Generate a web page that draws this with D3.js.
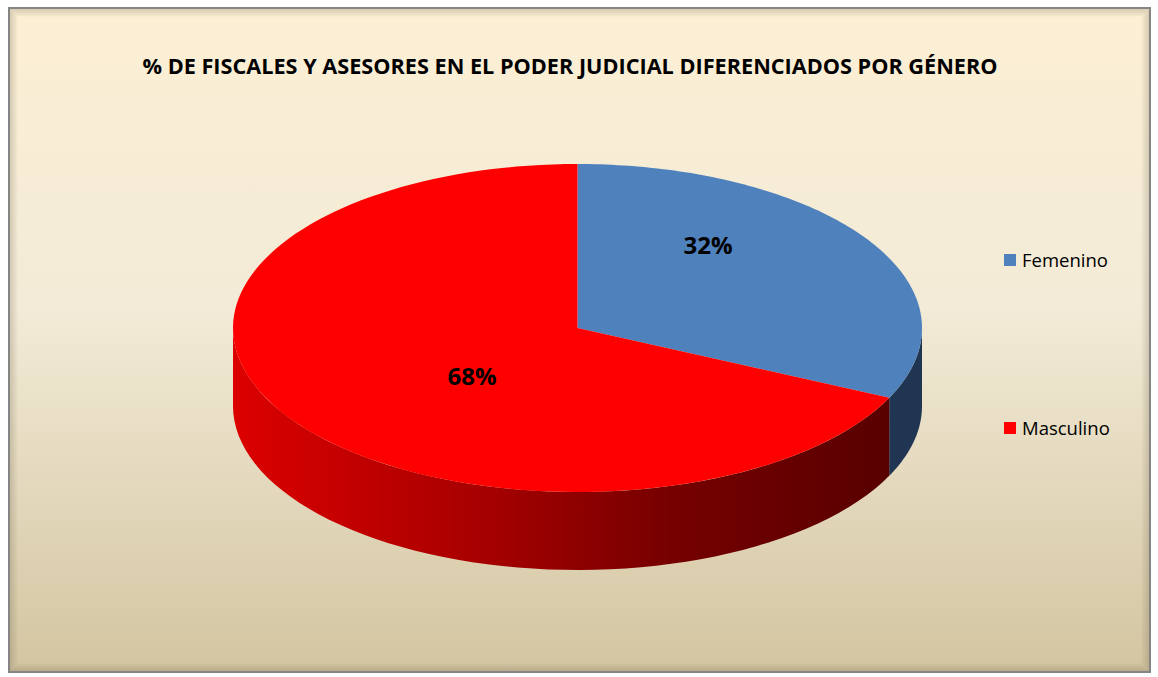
<!DOCTYPE html>
<html>
<head>
<meta charset="utf-8">
<script src="https://cdn.jsdelivr.net/npm/d3@7"></script>
<style>
  body { margin: 0; background: #ffffff; }
  svg { display: block; }
</style>
</head>
<body>
<div id="chart"></div>
<script>
// chart data
var categories = ["Femenino", "Masculino"];
var values = [32, 68];
var labels = ["32%", "68%"];
var colors = ["#4f81bd", "#ff0000"];
var title = "% DE FISCALES Y ASESORES EN EL PODER JUDICIAL DIFERENCIADOS POR GÉNERO";

var W = 1158, H = 677;
var svg = d3.select("#chart").append("svg")
  .attr("width", W)
  .attr("height", H);

var defs = svg.append("defs");

// background gradient
var bg = defs.append("linearGradient").attr("id", "bg")
  .attr("x1", 0).attr("y1", 0).attr("x2", 0).attr("y2", 1);
bg.append("stop").attr("offset", "0%").attr("stop-color", "#fcefd4");
bg.append("stop").attr("offset", "45%").attr("stop-color", "#f3ebd7");
bg.append("stop").attr("offset", "100%").attr("stop-color", "#d3c5a1");

// side gradient of the red slice
var sideRed = defs.append("linearGradient").attr("id", "sideRed")
  .attr("gradientUnits", "userSpaceOnUse")
  .attr("x1", 233).attr("y1", 0).attr("x2", 905).attr("y2", 0);
sideRed.append("stop").attr("offset", "0%").attr("stop-color", "#dc0000");
sideRed.append("stop").attr("offset", "40%").attr("stop-color", "#a20000");
sideRed.append("stop").attr("offset", "65%").attr("stop-color", "#760000");
sideRed.append("stop").attr("offset", "100%").attr("stop-color", "#560000");

var sideColors = ["#1f3552", "url(#sideRed)"];

// frame
var frame = { x: 9, y: 8, w: 1141, h: 664 };
svg.append("rect")
  .attr("x", frame.x).attr("y", frame.y)
  .attr("width", frame.w).attr("height", frame.h)
  .attr("fill", "url(#bg)");

// inner shadow of the frame
for (var i = 0; i < 8; i++) {
  svg.append("rect")
    .attr("x", frame.x + i + 1).attr("y", frame.y + i + 1)
    .attr("width", frame.w - 2 * i - 2).attr("height", frame.h - 2 * i - 2)
    .attr("fill", "none")
    .attr("stroke", "#6b604a")
    .attr("stroke-opacity", 0.25 * (1 - i / 8))
    .attr("stroke-width", 1);
}
svg.append("rect")
  .attr("x", frame.x).attr("y", frame.y)
  .attr("width", frame.w).attr("height", frame.h)
  .attr("fill", "none")
  .attr("stroke", "#858585")
  .attr("stroke-width", 2);

// title
svg.append("text")
  .attr("x", 570).attr("y", 74)
  .attr("text-anchor", "middle")
  .attr("font-family", "Open Sans, sans-serif")
  .attr("font-weight", "bold")
  .attr("font-size", 21)
  .attr("textLength", 855)
  .attr("lengthAdjust", "spacingAndGlyphs")
  .attr("fill", "#000")
  .text(title);

// pie geometry (ellipse)
var cx = 577.5, cy = 328, rx = 344.5, ry = 164, depth = 78;

var pie = d3.pie().sort(null).value(function(d) { return d; });
var arcs = pie(values);

// angle a measured clockwise from 12 o'clock
function px(a) { return cx + rx * Math.sin(a); }
function py(a, dz) { return cy - ry * Math.cos(a) + (dz || 0); }

function sidePath(a0, a1) {
  var n = 60, pts = [], i, a;
  for (i = 0; i <= n; i++) {
    a = a0 + (a1 - a0) * i / n;
    pts.push([px(a), py(a)]);
  }
  for (i = n; i >= 0; i--) {
    a = a0 + (a1 - a0) * i / n;
    pts.push([px(a), py(a, depth)]);
  }
  return d3.line()(pts) + "Z";
}

function topPath(a0, a1) {
  var n = 120, pts = [[cx, cy]];
  for (var i = 0; i <= n; i++) {
    var a = a0 + (a1 - a0) * i / n;
    pts.push([px(a), py(a)]);
  }
  return d3.line()(pts) + "Z";
}

// sides: only the front half (PI/2 .. 3PI/2) is visible
var g = svg.append("g");
g.selectAll("path.side")
  .data(arcs)
  .join("path")
  .attr("class", "side")
  .attr("d", function(d) {
    var a0 = Math.max(d.startAngle, Math.PI / 2);
    var a1 = Math.min(d.endAngle, 3 * Math.PI / 2);
    if (a1 <= a0) return null;
    return sidePath(a0, a1);
  })
  .attr("fill", function(d, i) { return sideColors[i]; });

// top faces
g.selectAll("path.top")
  .data(arcs)
  .join("path")
  .attr("class", "top")
  .attr("d", function(d) { return topPath(d.startAngle, d.endAngle); })
  .attr("fill", function(d, i) { return colors[i]; });

// data labels
var labelPos = [[708, 254], [472, 385]];
g.selectAll("text.lbl")
  .data(arcs)
  .join("text")
  .attr("class", "lbl")
  .attr("x", function(d, i) { return labelPos[i][0]; })
  .attr("y", function(d, i) { return labelPos[i][1]; })
  .attr("text-anchor", "middle")
  .attr("font-family", "Open Sans, sans-serif")
  .attr("font-weight", "bold")
  .attr("font-size", 24)
  .attr("fill", "#000")
  .text(function(d, i) { return labels[i]; });

// legend
var legend = svg.append("g")
  .selectAll("g")
  .data(categories)
  .join("g")
  .attr("transform", function(d, i) { return "translate(1004," + (254 + i * 168) + ")"; });
legend.append("rect")
  .attr("width", 12).attr("height", 12)
  .attr("fill", function(d, i) { return colors[i]; });
legend.append("text")
  .attr("x", 18).attr("y", 13)
  .attr("font-family", "Open Sans, sans-serif")
  .attr("font-size", 18.5)
  .attr("fill", "#000")
  .text(function(d) { return d; });
</script>
</body>
</html>
